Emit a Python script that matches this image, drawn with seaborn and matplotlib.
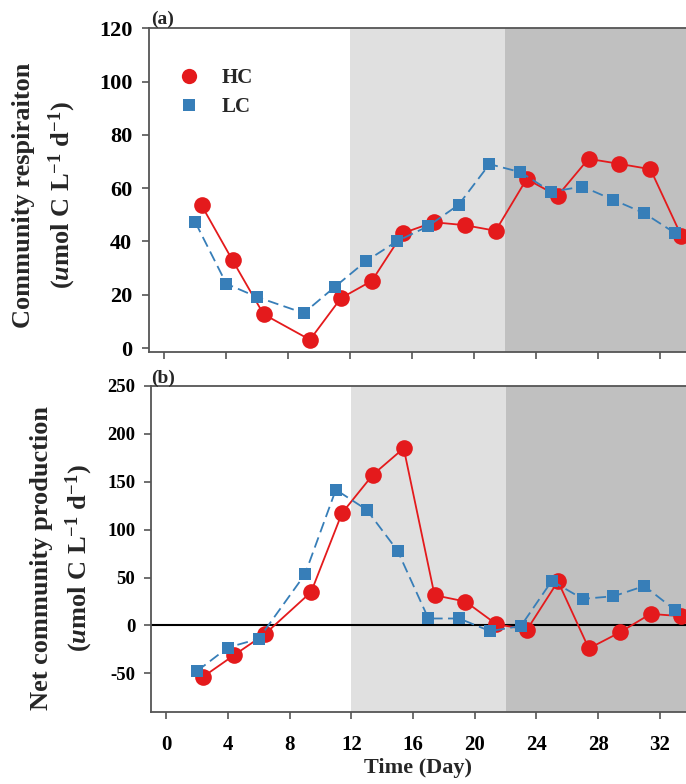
"""Community respiration and net community production, HC vs LC."""

import matplotlib

matplotlib.use("Agg")

import matplotlib.pyplot as plt
import pandas as pd
import seaborn as sns
from matplotlib.lines import Line2D

# days (HC offset slightly to the right in the original figure)
HC_DAYS = [2.4, 4.4, 6.4, 9.4, 11.4, 13.4, 15.4, 17.4, 19.4, 21.4, 23.4, 25.4, 27.4, 29.4, 31.4, 33.4]
LC_DAYS = [2.0, 4.0, 6.0, 9.0, 11.0, 13.0, 15.0, 17.0, 19.0, 21.0, 23.0, 25.0, 27.0, 29.0, 31.0, 33.0]

# (a) community respiration
CR_HC = [53.5, 32.9, 12.7, 3.1, 18.7, 25.2, 43.1, 47.2, 46.1, 44.0, 63.4, 57.1, 71.0, 69.1, 67.1, 42.1]
CR_LC = [47.1, 24.1, 19.1, 13.1, 22.9, 32.5, 40.0, 45.6, 53.7, 69.0, 66.0, 58.6, 60.6, 55.6, 50.6, 43.1]

# (b) net community production
NCP_HC = [-53.5, -31.0, -9.0, 35.0, 117.3, 157.3, 185.0, 31.6, 25.0, 1.4, -4.2, 46.1, -24.0, -7.3, 12.1, 9.7]
NCP_LC = [-47.6, -23.0, -13.9, 53.4, 141.7, 120.8, 78.1, 7.3, 7.3, -5.9, -0.5, 46.5, 27.8, 30.5, 41.2, 16.0]

X_TICKS = [0, 4, 8, 12, 16, 20, 24, 28, 32]
PHASES = [(12, 22, "#e0e0e0"), (22, 40, "#c0c0c0")]

RED = "#e41a1c"
BLUE = "#377eb8"

sns.set_theme(style="ticks")
plt.rcParams["font.family"] = ["Liberation Serif", "DejaVu Serif"]
plt.rcParams["font.weight"] = "bold"
plt.rcParams["axes.unicode_minus"] = False
plt.rcParams["mathtext.fontset"] = "custom"
plt.rcParams["mathtext.rm"] = "Liberation Serif:bold"
plt.rcParams["mathtext.it"] = "Liberation Serif:bold:italic"
plt.rcParams["mathtext.bf"] = "Liberation Serif:bold"


def _draw_panel(ax, hc_values, lc_values, ylim, yticks):
    for start, end, color in PHASES:
        ax.axvspan(start, end, color=color, lw=0, zorder=0)

    hc = pd.DataFrame({"day": HC_DAYS, "value": hc_values})
    lc = pd.DataFrame({"day": LC_DAYS, "value": lc_values})
    sns.lineplot(
        data=hc, x="day", y="value", color=RED, marker="o", markersize=12,
        markeredgewidth=0, linewidth=1.3, ax=ax, zorder=3,
    )
    sns.lineplot(
        data=lc, x="day", y="value", color=BLUE, marker="s", markersize=9,
        markeredgewidth=0, linewidth=1.3, dashes=(6, 3), ax=ax, zorder=4,
    )

    ax.set_xlim(-1, 33.7)
    ax.set_ylim(*ylim)
    ax.set_xticks(X_TICKS)
    ax.set_yticks(yticks)
    ax.set_xlabel("")
    ax.set_ylabel("")
    ax.spines["right"].set_visible(False)
    for side in ("left", "bottom", "top"):
        ax.spines[side].set_color("#555555")
        ax.spines[side].set_linewidth(1.3)
    ax.tick_params(direction="out", length=5, width=1.2, color="#555555", pad=4)
    for label in ax.get_xticklabels() + ax.get_yticklabels():
        label.set_fontweight("bold")
        label.set_color("black")


fig = plt.figure(figsize=(6.86, 7.84), dpi=100)
ax_a = fig.add_axes([0.2172, 0.551, 0.7828, 0.413])
ax_b = fig.add_axes([0.2197, 0.0922, 0.7803, 0.4155])

_draw_panel(ax_a, CR_HC, CR_LC, (-1.5, 120), [0, 20, 40, 60, 80, 100, 120])
ax_a.tick_params(axis="y", labelsize=16, pad=7)
ax_a.set_xticklabels([])

_draw_panel(ax_b, NCP_HC, NCP_LC, (-90, 250), [-50, 0, 50, 100, 150, 200, 250])
ax_b.axhline(0, color="black", linewidth=1.5, zorder=2)
ax_b.tick_params(axis="y", labelsize=13.5, pad=6)
ax_b.tick_params(axis="x", labelsize=15, pad=12)
ax_b.set_xlabel("Time (Day)", fontsize=16, fontweight="bold", labelpad=2)

handles = [
    Line2D([], [], color=RED, marker="o", markersize=11, linestyle="none", markeredgewidth=0),
    Line2D([], [], color=BLUE, marker="s", markersize=9, linestyle="none", markeredgewidth=0),
]
ax_a.legend(
    handles, ["HC", "LC"], loc="upper left", bbox_to_anchor=(0.0, 0.935),
    frameon=False, prop={"weight": "bold", "size": 15}, handletextpad=0.6,
    labelspacing=0.45,
)

unit = r"($\mathit{u}$mol C L$^{-1}$ d$^{-1}$)"
fig.text(0.066, 0.751, "Community respiraiton\n" + unit, rotation=90, ha="center",
         va="center", multialignment="center", fontsize=19, fontweight="bold",
         linespacing=1.5)
fig.text(0.091, 0.288, "Net community production\n" + unit, rotation=90, ha="center",
         va="center", multialignment="center", fontsize=19, fontweight="bold",
         linespacing=1.5)

fig.text(0.221, 0.969, "(a)", fontsize=14, fontweight="bold")
fig.text(0.221, 0.511, "(b)", fontsize=14, fontweight="bold")

fig.savefig("out.png", dpi=100)
